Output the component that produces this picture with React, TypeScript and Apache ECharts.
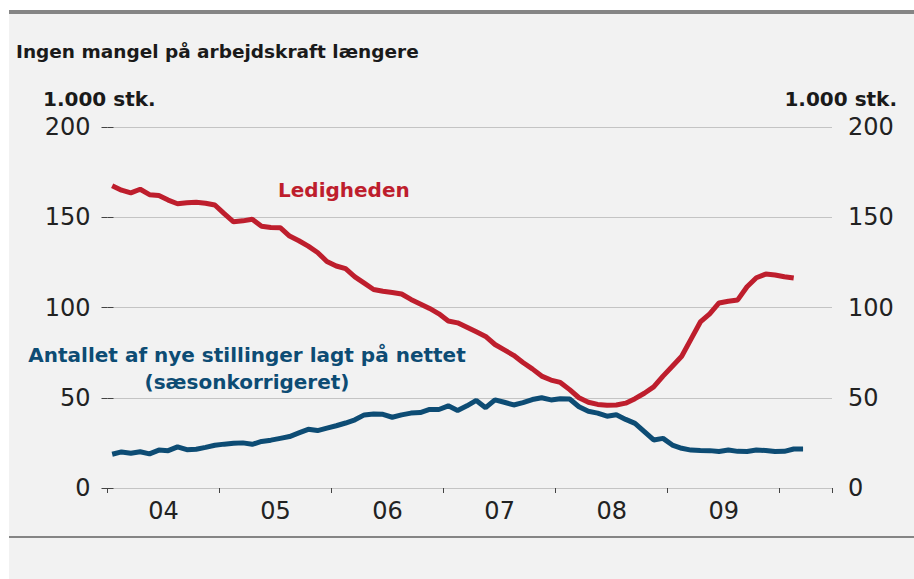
import React, { useEffect, useRef } from "react";
import * as echarts from "echarts";

const yearLabels = ["04", "05", "06", "07", "08", "09"];
const yTicks = [0, 50, 100, 150, 200];

// Monthly, Jan 2004 – Feb 2010 (1.000 stk.)
const ledigheden = [
  167.5, 165, 163.5, 165.5, 162.5, 162, 159.5, 157.5, 158, 158.3, 157.8, 156.8,
  152, 147.5, 148, 148.9, 145, 144.3, 144.2, 139.6, 137, 134, 130.5, 125.5,
  123, 121.5, 117, 113.5, 110, 109, 108.3, 107.5, 104.5, 102, 99.5, 96.5,
  92.5, 91.5, 89, 86.5, 84, 79.5, 76.5, 73.5, 69.5, 66, 62, 59.8,
  58.5, 54.5, 50, 47.5, 46.3, 45.8, 46, 47, 49.5, 52.5, 56, 62,
  67.5, 73, 82.5, 92, 96.5, 102.5, 103.5, 104.2, 111.5, 116.5, 118.5, 118,
  117, 116.3,
];

// Monthly, Jan 2004 – Mar 2010 (1.000 stk.)
const nyeStillinger = [
  18.7, 20, 19.3, 20.1, 18.9, 21, 20.7, 22.8, 21.2, 21.5, 22.5, 23.7,
  24.3, 24.8, 25, 24.2, 25.8, 26.5, 27.5, 28.5, 30.5, 32.5, 31.8, 33.2,
  34.5, 36, 37.8, 40.5, 41, 40.8, 39.2, 40.5, 41.5, 41.8, 43.5, 43.5,
  45.5, 43, 45.5, 48.5, 44.5, 48.8, 47.5, 46, 47.3, 49, 50, 48.8,
  49.5, 49.3, 45, 42.5, 41.5, 39.8, 40.6, 38, 35.8, 31.2, 26.6, 27.5,
  23.8, 22, 21, 20.8, 20.7, 20.2, 21, 20.3, 20.2, 21, 20.8, 20.2,
  20.3, 21.6, 21.6,
];

const FONT = "DejaVu Sans";
const RED = "#be1e2d";
const BLUE = "#0d4c74";
const X_MAX = 77.6;

export default function App() {
  const ref = useRef<HTMLDivElement>(null);
  useEffect(() => {
    if (!ref.current) return;
    const chart = echarts.init(ref.current, null, { renderer: "svg" });
    const toPairs = (arr: number[]) => arr.map((v, i) => [i + 0.5, v]);
    const yAxisBase = {
      type: "value",
      min: yTicks[0],
      max: yTicks[yTicks.length - 1],
      interval: 50,
      axisLine: { show: false },
      axisTick: { show: true, length: 6, lineStyle: { color: "#444", width: 1 } },
    };
    chart.setOption({
      animation: false,
      backgroundColor: "#f2f2f2",
      grid: { left: 98.5, right: 82, top: 117, bottom: 91, containLabel: false },
      xAxis: [
        {
          type: "value",
          min: 0,
          max: X_MAX,
          interval: 6,
          axisLine: { show: false },
          axisTick: { show: false },
          splitLine: { show: false },
          axisLabel: {
            showMinLabel: true,
            showMaxLabel: false,
            margin: 11,
            fontFamily: FONT,
            fontSize: 24,
            color: "#222",
            formatter: (v: number) => {
              if (v % 12 === 6) {
                const idx = (v - 6) / 12;
                return yearLabels[idx] ?? "";
              }
              return "";
            },
          },
        },
        {
          type: "value",
          min: 0,
          max: X_MAX,
          interval: 12,
          position: "bottom",
          axisLine: { show: false },
          axisTick: { show: true, length: 5, lineStyle: { color: "#444", width: 1 } },
          splitLine: { show: false },
          axisLabel: { show: false },
        },
      ],
      yAxis: [
        {
          ...yAxisBase,
          position: "left",
          splitLine: { show: true, lineStyle: { color: "#c4c4c4", width: 1 } },
          axisLabel: { margin: 17, fontFamily: FONT, fontSize: 24, color: "#222" },
        },
        {
          ...yAxisBase,
          position: "right",
          splitLine: { show: false },
          axisLabel: { margin: 16, fontFamily: FONT, fontSize: 24, color: "#222" },
        },
      ],
      series: [
        {
          type: "line",
          data: toPairs(ledigheden),
          xAxisIndex: 0,
          yAxisIndex: 0,
          showSymbol: false,
          lineStyle: { color: RED, width: 5 },
          z: 3,
        },
        {
          type: "line",
          data: toPairs(nyeStillinger),
          xAxisIndex: 0,
          yAxisIndex: 0,
          showSymbol: false,
          lineStyle: { color: BLUE, width: 5 },
          z: 4,
        },
      ],
      graphic: [
        { type: "rect", shape: { x: 0, y: 0, width: 905, height: 4 }, style: { fill: "#858585" } },
        { type: "rect", shape: { x: 0, y: 526, width: 905, height: 2 }, style: { fill: "#858585" } },
        {
          type: "text",
          x: 7,
          y: 41,
          style: {
            text: "Ingen mangel på arbejdskraft længere",
            fontFamily: FONT,
            fontSize: 18.5,
            fontWeight: "bold",
            fill: "#1a1a1a",
            verticalAlign: "middle",
          },
        },
        {
          type: "text",
          x: 34,
          y: 89,
          style: {
            text: "1.000 stk.",
            fontFamily: FONT,
            fontSize: 20,
            fontWeight: "bold",
            fill: "#1a1a1a",
            verticalAlign: "middle",
          },
        },
        {
          type: "text",
          x: 888,
          y: 89,
          style: {
            text: "1.000 stk.",
            fontFamily: FONT,
            fontSize: 20,
            fontWeight: "bold",
            fill: "#1a1a1a",
            align: "right",
            verticalAlign: "middle",
          },
        },
        {
          type: "text",
          x: 269,
          y: 180,
          style: {
            text: "Ledigheden",
            fontFamily: FONT,
            fontSize: 20,
            fontWeight: "bold",
            fill: RED,
            verticalAlign: "middle",
          },
        },
        {
          type: "text",
          x: 238,
          y: 345,
          style: {
            text: "Antallet af nye stillinger lagt på nettet",
            fontFamily: FONT,
            fontSize: 20,
            fontWeight: "bold",
            fill: BLUE,
            align: "center",
            verticalAlign: "middle",
          },
        },
        {
          type: "text",
          x: 238,
          y: 372,
          style: {
            text: "(sæsonkorrigeret)",
            fontFamily: FONT,
            fontSize: 20,
            fontWeight: "bold",
            fill: BLUE,
            align: "center",
            verticalAlign: "middle",
          },
        },
      ],
    });
    return () => chart.dispose();
  }, []);
  return (
    <div
      ref={ref}
      style={{ position: "absolute", left: 9, top: 10, width: 905, height: 569, background: "#f2f2f2" }}
    />
  );
}
